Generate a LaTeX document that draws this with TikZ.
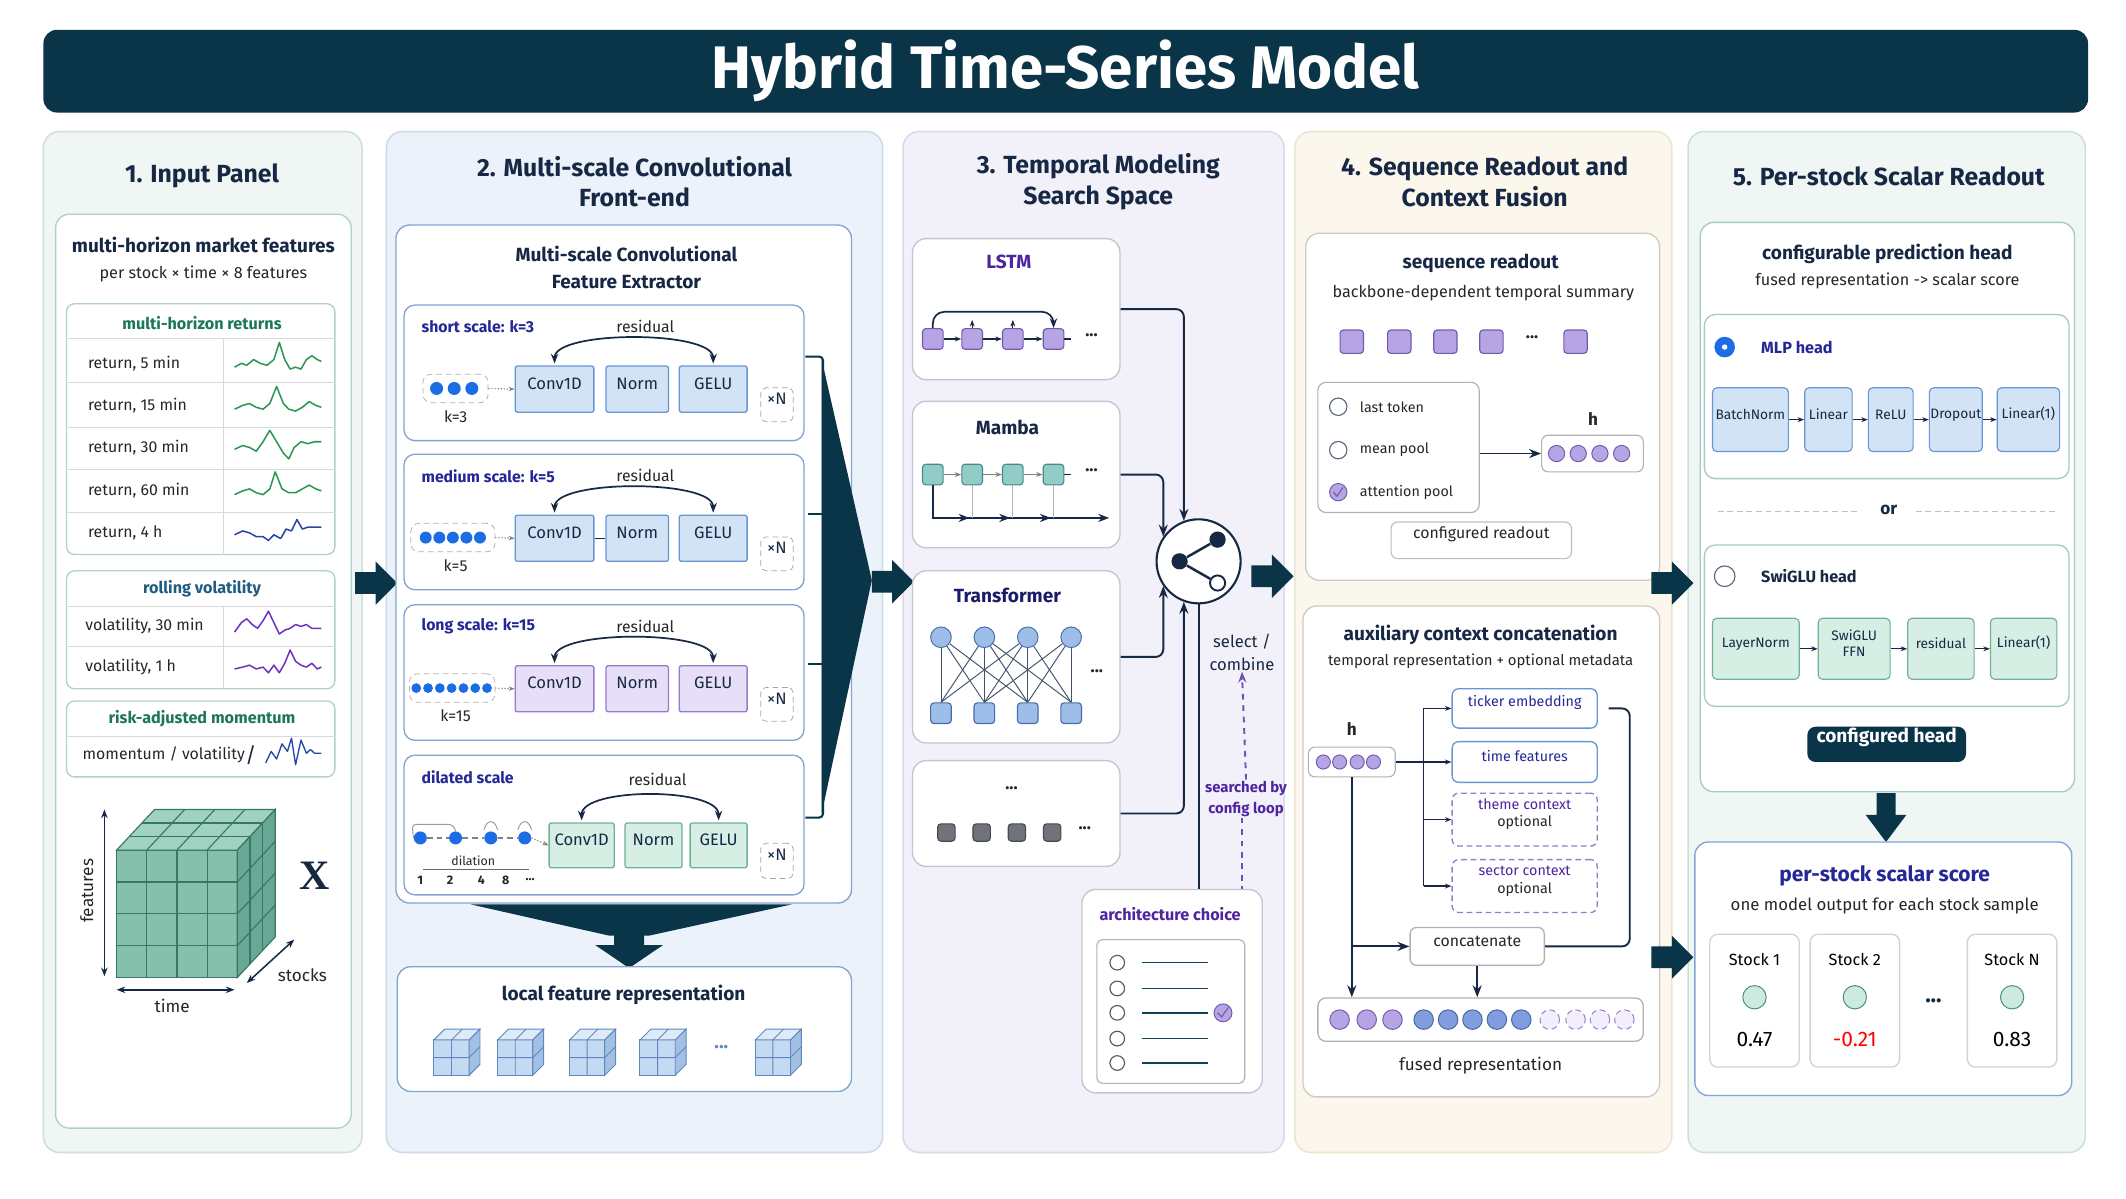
\documentclass[tikz,border=0pt]{standalone}
\usepackage{fontspec}
\setmainfont{Fira Sans}
\newfontfamily\serifx{Liberation Serif}
\usetikzlibrary{arrows.meta, positioning, calc, fit}

\definecolor{navy}{RGB}{10,52,72}
\definecolor{ink}{RGB}{22,40,68}
\definecolor{inkblue}{RGB}{36,40,150}
\definecolor{inkpur}{RGB}{78,36,160}
\definecolor{inkgreen}{RGB}{28,118,88}
\definecolor{inkteal}{RGB}{30,92,128}
\definecolor{pgreen}{RGB}{239,246,243}
\definecolor{pgreenE}{RGB}{206,224,216}
\definecolor{pblue}{RGB}{235,242,250}
\definecolor{pblueE}{RGB}{204,218,236}
\definecolor{plav}{RGB}{242,241,250}
\definecolor{plavE}{RGB}{218,216,234}
\definecolor{pcream}{RGB}{251,247,236}
\definecolor{pcreamE}{RGB}{238,228,206}
\definecolor{pmint}{RGB}{239,246,244}
\definecolor{pmintE}{RGB}{204,224,218}
\definecolor{cardg}{RGB}{178,208,196}
\definecolor{cardb}{RGB}{128,164,212}
\definecolor{cardl}{RGB}{196,196,210}
\definecolor{cardc}{RGB}{206,204,194}
\definecolor{cardm}{RGB}{164,204,198}
\definecolor{cvblue}{RGB}{210,227,246}
\definecolor{cvblueE}{RGB}{104,150,212}
\definecolor{cvpur}{RGB}{231,222,247}
\definecolor{cvpurE}{RGB}{150,124,204}
\definecolor{cvgrn}{RGB}{214,238,228}
\definecolor{cvgrnE}{RGB}{112,178,152}
\definecolor{dotb}{RGB}{28,108,228}
\definecolor{sqpur}{RGB}{182,164,228}
\definecolor{sqpurE}{RGB}{112,92,172}
\definecolor{sqteal}{RGB}{146,204,198}
\definecolor{sqtealE}{RGB}{70,138,138}
\definecolor{tfb}{RGB}{156,190,232}
\definecolor{tfbE}{RGB}{72,110,170}
\definecolor{sqgray}{RGB}{112,116,122}
\definecolor{sqgrayE}{RGB}{70,74,80}
\definecolor{cblu}{RGB}{128,158,222}
\definecolor{cbluE}{RGB}{70,100,170}
\definecolor{cubeF}{RGB}{132,192,172}
\definecolor{cubeT}{RGB}{160,210,192}
\definecolor{cubeR}{RGB}{104,168,148}
\definecolor{cubeE}{RGB}{58,118,102}
\definecolor{cbF}{RGB}{196,218,242}
\definecolor{cbT}{RGB}{222,234,248}
\definecolor{cbR}{RGB}{162,192,228}
\definecolor{cbE}{RGB}{96,136,190}
\definecolor{spg}{RGB}{44,150,84}
\definecolor{spb}{RGB}{40,70,170}
\definecolor{spp}{RGB}{112,50,196}
\definecolor{stk}{RGB}{204,234,222}
\definecolor{stkE}{RGB}{70,138,128}

\tikzset{
  panel/.style={draw, rounded corners=3mm, line width=0.8pt, inner sep=0pt},
  card/.style={draw=#1, fill=white, rounded corners=2.5mm, line width=0.7pt, inner sep=0pt},
  ptitle/.style={font=\fontsize{13}{16}\selectfont\bfseries, text=ink, align=center},
  btitle/.style={font=\fontsize{10}{14}\selectfont\bfseries, text=ink, align=center},
  hdr/.style={font=\fontsize{8.5}{10}\selectfont\bfseries},
  sub/.style={font=\fontsize{8.5}{10}\selectfont, text=black!85},
  lbl/.style={font=\fontsize{8.3}{9.5}\selectfont, text=black!85},
  sm/.style={font=\fontsize{7.5}{9}\selectfont, text=black!85},
  scl/.style={font=\fontsize{8.3}{9.5}\selectfont\bfseries, text=inkblue},
  cv/.style={draw=#1E, fill=#1, line width=0.7pt, inner sep=0pt, rounded corners=0.4mm, font=\fontsize{8.7}{10}\selectfont, text=ink},
  hb/.style={draw=#1E, fill=#1, line width=0.6pt, inner sep=0pt, rounded corners=0.8mm, font=\fontsize{7.2}{8.2}\selectfont, text=ink, align=center},
  xn/.style={draw=gray!70, densely dashed, rounded corners=1mm, inner sep=0pt, font=\fontsize{8.7}{9}\selectfont, text=ink},
  sq/.style={draw=#1E, fill=#1, minimum size=3.8mm, inner sep=0pt, rounded corners=0.6mm, line width=0.6pt},
  dot/.style={circle, draw=#1E, fill=#1, minimum size=3.4mm, inner sep=0pt, line width=0.5pt},
  radio/.style={circle, draw=ink!70, fill=white, minimum size=3.2mm, inner sep=0pt, line width=0.6pt},
  rowline/.style={draw=gray!30, line width=0.5pt},
  conn/.style={-{Stealth[length=2.2mm]}, draw=ink, line width=1pt, rounded corners=4pt},
  sarr/.style={-{Stealth[length=1.2mm]}, draw=ink, line width=0.6pt},
  resid/.style={{Stealth[length=1.8mm]}-{Stealth[length=1.8mm]}, draw=ink, line width=0.9pt, shorten <=1pt, shorten >=1pt},
  dotarr/.style={-{Stealth[length=1.1mm]}, draw=gray, densely dotted, line width=0.6pt},
  purdash/.style={draw=inkpur!80, dashed, line width=1pt},
  spark/.style={line width=0.8pt, line join=round, yscale=1.4},
  bigarrow/.pic={\fill[navy] (0,-8) -- (15,-8) -- (15,-16) -- (31,0) -- (15,16) -- (15,8) -- (0,8) -- cycle;},
  fcube/.pic={
    \filldraw[fill=cbF, draw=cbE, line width=0.5pt] (-17,-9) rectangle (9,17);
    \filldraw[fill=cbT, draw=cbE, line width=0.5pt] (-17,-9) -- (-9,-17) -- (17,-17) -- (9,-9) -- cycle;
    \filldraw[fill=cbR, draw=cbE, line width=0.5pt] (9,-9) -- (17,-17) -- (17,9) -- (9,17) -- cycle;
    \draw[cbE, line width=0.5pt] (-4,-9) -- (-4,17) (-17,4) -- (9,4) (-4,-9) -- (4,-17) (9,4) -- (17,-4);
  },
}

\begin{document}
\begin{tikzpicture}[x=0.25mm, y=-0.25mm]
  \useasboundingbox (0,0) rectangle (1568,884);
  \fill[white] (0,0) rectangle (1568,884);

  \node[fill=navy, rounded corners=2.5mm, inner sep=0pt, fit={(32,22) (1540,83)}] (bar) {};
  \node[font=\fontsize{31.5}{34}\selectfont\bfseries, text=white] (ttl) at (bar.center) {Hybrid Time-Series Model};

  \foreach \n/\xa/\xb/\cl in {1/32/267/pgreen, 2/285/651/pblue, 3/666/947/plav, 4/955/1233/pcream, 5/1245/1538/pmint}
    \node[panel, fill=\cl, draw=\cl E, fit={(\xa,97) (\xb,850)}] (p\n) {};

  \node[ptitle] (t1) at (149,130) {1. Input Panel};
  \node[ptitle] (t2) at (468,134) {2. Multi-scale Convolutional\\Front-end};
  \node[ptitle] (t3) at (810,134) {3. Temporal Modeling\\Search Space};
  \node[ptitle] (t4) at (1095,134) {4. Sequence Readout and\\Context Fusion};
  \node[ptitle] (t5) at (1393,130) {5. Per-stock Scalar Readout};

  % input panel
  \node[card=cardg, fit={(41,158) (259,832)}] (mhf) {};
  \node[btitle] (mhft) at (150,181) {multi-horizon market features};
  \node[sub] (mhfs) at (150,202) {per stock × time × 8 features};

  \node[card=cardg, rounded corners=1.5mm, fit={(49,224) (247,409)}] (ret) {};
  \node[hdr, text=inkgreen] (rett) at (149,238) {multi-horizon returns};
  \foreach \y in {250,282,315,346,378} \draw[rowline] (49,\y) -- (247,\y);
  \draw[rowline] (165,250) -- (165,409);
  \foreach \i/\t/\y in {1/{5 min}/268, 2/{15 min}/299, 3/{30 min}/330, 4/{60 min}/362, 5/{4 h}/393}
    \node[lbl, anchor=west] (ret\i) at (60,\y) {return, \t};
  \draw[spg, shift={(173,268)}, spark] plot coordinates {(0,2) (5,0) (9,1) (14,-2) (19,0) (24,1) (29,-2) (33,-11) (37,-2) (41,3) (45,2) (49,3) (53,-2) (57,-4) (61,-2) (64,-1)};
  \draw[spg, shift={(173,299)}, spark] plot coordinates {(0,2) (6,0) (11,-1) (16,1) (21,2) (26,-1) (31,-10) (36,-1) (40,2) (45,3) (50,1) (55,-2) (60,0) (64,1)};
  \draw[spg, shift={(173,330)}, spark] plot coordinates {(0,1) (6,-1) (11,0) (16,2) (21,-3) (26,-9) (31,-3) (36,3) (40,6) (44,0) (49,-3) (54,-2) (59,-3) (64,-3)};
  \draw[spg, shift={(173,362)}, spark] plot coordinates {(0,2) (6,0) (11,-1) (16,1) (21,2) (26,-1) (30,-10) (35,-1) (40,1) (45,1) (50,-1) (55,-3) (60,-1) (64,0)};
  \draw[spb, shift={(173,393)}, spark] plot coordinates {(0,1) (6,-1) (11,0) (16,2) (21,2) (25,4) (29,1) (34,3) (38,-2) (42,-1) (46,-7) (50,-2) (54,-3) (60,-3) (64,-3)};

  \node[card=cardg, rounded corners=1.5mm, fit={(49,421) (247,508)}] (vol) {};
  \node[hdr, text=inkteal] (volt) at (149,434) {rolling volatility};
  \foreach \y in {447,477} \draw[rowline] (49,\y) -- (247,\y);
  \draw[rowline] (165,447) -- (165,508);
  \node[lbl, anchor=west] (vol1) at (58,462) {volatility, 30 min};
  \node[lbl, anchor=west] (vol2) at (58,492) {volatility, 1 h};
  \draw[spp, shift={(173,462)}, spark] plot coordinates {(0,3) (5,-2) (9,-4) (13,-1) (17,1) (21,-3) (25,-8) (29,-2) (33,4) (37,2) (41,1) (45,-1) (49,0) (53,-1) (57,1) (64,1)};
  \draw[spp, shift={(173,492)}, spark] plot coordinates {(0,1) (6,0) (11,-1) (16,1) (21,0) (25,3) (29,-1) (33,3) (37,-2) (41,-9) (45,-3) (49,-1) (53,0) (57,-2) (61,1) (64,0)};

  \node[card=cardg, rounded corners=1.5mm, fit={(49,517) (247,573)}] (mom) {};
  \node[hdr, text=inkgreen] (momt) at (149,530) {risk-adjusted momentum};
  \draw[rowline] (49,543) -- (247,543);
  \node[lbl, anchor=west] (mom1) at (56,557) {momentum / volatility};
  \node[font=\fontsize{11}{12}\selectfont, text=ink] (slash) at (185,557) {/};
  \draw[spb, shift={(196,557)}, spark, line width=0.7pt] plot coordinates {(0,4) (4,-2) (8,2) (12,-6) (16,-2) (19,-9) (22,5) (26,-8) (30,-1) (33,-3) (36,-1) (41,-1)};

  \filldraw[fill=cubeF, draw=cubeE, line width=0.6pt] (86,627) rectangle (175,721);
  \filldraw[fill=cubeT, draw=cubeE, line width=0.6pt] (86,627) -- (114,597) -- (203,597) -- (175,627) -- cycle;
  \filldraw[fill=cubeR, draw=cubeE, line width=0.6pt] (175,627) -- (203,597) -- (203,691) -- (175,721) -- cycle;
  \foreach \k in {1,2,3} {
    \draw[cubeE, line width=0.6pt] (86+22.25*\k,627) -- (86+22.25*\k,721);
    \draw[cubeE, line width=0.6pt] (86,627+23.5*\k) -- (175,627+23.5*\k);
    \draw[cubeE, line width=0.6pt] (86+22.25*\k,627) -- ++(28,-30);
    \draw[cubeE, line width=0.6pt] (175,627+23.5*\k) -- ++(28,-30);
  }
  \foreach \j in {1,2} {
    \draw[cubeE, line width=0.6pt] (86+9.33*\j,627-10*\j) -- ++(89,0);
    \draw[cubeE, line width=0.6pt] (175+9.33*\j,627-10*\j) -- ++(0,94);
  }
  \coordinate (fa) at (77,720);
  \coordinate (fb) at (77,597);
  \coordinate (ta) at (86,730);
  \coordinate (tb) at (173,730);
  \coordinate (sa) at (182,725);
  \coordinate (sb) at (217,693);
  \draw[{Stealth[length=1.6mm]}-{Stealth[length=1.6mm]}, ink, line width=0.8pt] (fa) -- (fb);
  \draw[{Stealth[length=1.6mm]}-{Stealth[length=1.6mm]}, ink, line width=0.8pt] (ta) -- (tb);
  \draw[{Stealth[length=1.6mm]}-{Stealth[length=1.6mm]}, ink, line width=0.8pt] (sa) -- (sb);
  \node[lbl, rotate=90, font=\fontsize{9}{10}\selectfont] (feat) at (64,657) {features};
  \node[lbl, font=\fontsize{9}{10}\selectfont] (time) at (127,742) {time};
  \node[lbl, font=\fontsize{9}{10}\selectfont] (stk) at (223,719) {stocks};
  \node[font=\serifx\fontsize{22}{24}\selectfont\bfseries, text=ink] (xx) at (232,646) {X};

  \pic at (262,430) {bigarrow};

  % conv front-end
  \node[card=cardb, fit={(292,166) (628,666)}] (mcfe) {};
  \node[btitle] (mcfet) at (462,197) {Multi-scale Convolutional\\Feature Extractor};
  \foreach \i/\nm/\yt/\fc/\nd/\dx/\xs/\bl/\br/\kk/\rr in {
      1/{short scale: k=3}/225/cvblue/3/13/322/312/360/3/1.2mm,
      2/{medium scale: k=5}/335/cvblue/5/10/314/303/365/5/1.1mm,
      3/{long scale: k=15}/446/cvpur/7/8.7/307/302/365/15/0.9mm} {
    \node[card=cardb, rounded corners=2mm, fit={(298,\yt) (593,\yt+100)}] (sc\i) {};
    \node[scl, anchor=west] (scl\i) at (306,\yt+16) {\nm};
    \node[lbl] (res\i) at (476,\yt+16) {residual};
    \node[cv=\fc, fit={(380,\yt+45) (438,\yt+79)}] (cv\i) {Conv1D};
    \node[cv=\fc, fit={(447,\yt+45) (493,\yt+79)}] (nm\i) {Norm};
    \node[cv=\fc, fit={(501,\yt+45) (551,\yt+79)}] (ge\i) {GELU};
    \draw[resid] (cv\i.north) .. controls +(0,-26) and +(0,-26) .. (ge\i.north);
    \node[draw=gray!60, densely dashed, rounded corners=1.5mm, inner sep=0pt, fit={(\bl,\yt+51) (\br,\yt+72)}] (db\i) {};
    \foreach \k in {1,...,\nd} \fill[dotb] (\xs+\dx*\k-\dx,\yt+61.5) circle (\rr);
    \node[lbl] (k\i) at (336,\yt+82) {k=\kk};
    \draw[dotarr] (db\i.east) -- (cv\i.west);
    \node[xn, fit={(561,\yt+61) (585,\yt+86)}] (xn\i) {×N};
  }
  \draw[ink, line width=0.6pt] (cv2.east) -- (nm2.west);

  \node[card=cardb, rounded corners=2mm, fit={(298,557) (593,660)}] (sc4) {};
  \node[scl, anchor=west] (scl4) at (306,573) {dilated scale};
  \node[lbl] (res4) at (485,575) {residual};
  \node[cv=cvgrn, fit={(405,607) (453,640)}] (cv4) {Conv1D};
  \node[cv=cvgrn, fit={(461,607) (503,640)}] (nm4) {Norm};
  \node[cv=cvgrn, fit={(509,607) (551,640)}] (ge4) {GELU};
  \draw[resid] (cv4.north) .. controls +(0,-26) and +(0,-26) .. (ge4.north);
  \foreach \k/\xx in {1/310, 2/336, 3/362, 4/387}
    \node[circle, fill=dotb, minimum size=2.4mm, inner sep=0pt] (dd\k) at (\xx,618) {};
  \draw[gray, densely dashed, line width=0.6pt] (dd1) -- (dd2) -- (dd3) -- (dd4);
  \draw[gray!80, line width=0.5pt, rounded corners=2pt] (dd1.west) -- (304,608) -- (334,608) -- (dd2.north);
  \draw[gray!80, line width=0.5pt] (357,612) .. controls (359,604) and (365,604) .. (367,612);
  \draw[gray!80, line width=0.5pt] (382,612) .. controls (384,604) and (390,604) .. (392,612);
  \draw[dotarr] (dd4.east) -- (cv4.west);
  \node[sm, font=\fontsize{6.5}{7}\selectfont] (dil) at (349,635) {dilation};
  \draw[ink!70, line width=0.5pt] (312,641) -- (390,641);
  \foreach \xx/\t in {310/1, 332/2, 355/4, 373/8, 391/{\ldots}}
    \node[sm, font=\fontsize{6.5}{7}\selectfont\bfseries] at (\xx,649) {\t};
  \node[xn, fit={(561,622) (585,648)}] (xn4) {×N};

  \fill[navy] (606,265) -- (643,428) -- (606,600) -- cycle;
  \draw[navy, line width=1.1pt, rounded corners=2pt] (594,263) -- (607,263) -- (607,603) -- (594,603);
  \draw[navy, line width=1.1pt] (607,379) -- (596,379) (607,490) -- (596,490);
  \pic at (643,429) {bigarrow};

  \fill[navy] (347,667) -- (584,667) -- (479,690) -- (449,690) -- cycle;
  \fill[navy] (453,689) -- (475,689) -- (475,697) -- (489,697) -- (464,714) -- (439,697) -- (453,697) -- cycle;

  \node[card=cardb, fit={(293,713) (628,805)}] (lfr) {};
  \node[btitle] (lfrt) at (460,734) {local feature representation};
  \foreach \xx in {337,384,437,489,574} \pic at (\xx,776) {fcube};
  \node[lbl, font=\fontsize{10}{10}\selectfont\bfseries, text=cbE] (lfrd) at (532,772) {...};

  % temporal search space
  \node[card=cardl, fit={(673,176) (826,280)}] (lstm) {};
  \node[btitle, text=inkpur] (lstmt) at (744,193) {LSTM};
  \foreach \k/\xx in {1/688, 2/717, 3/747, 4/777} \node[sq=sqpur] (ls\k) at (\xx,250) {};
  \foreach \a/\b in {1/2, 2/3, 3/4} \draw[sarr] (ls\a) -- (ls\b);
  \draw[ink, line width=0.6pt] (ls4.east) -- ++(5,0);
  \draw[-{Stealth[length=1.8mm]}, ink, line width=0.9pt, rounded corners=6pt] (ls1.north) -- ++(0,-12) -| (ls4.north);
  \draw[sarr] (ls2.north) -- ++(0,-6);
  \draw[sarr] (ls3.north) -- ++(0,-6);
  \node[lbl, font=\fontsize{9}{9}\selectfont\bfseries] (lsd) at (805,247) {...};

  \node[card=cardl, fit={(673,296) (826,404)}] (mamba) {};
  \node[btitle] (mambat) at (743,315) {Mamba};
  \foreach \k/\xx in {1/688, 2/717, 3/747, 4/777} \node[sq=sqteal] (mb\k) at (\xx,350) {};
  \foreach \a/\b in {1/2, 2/3, 3/4} \draw[sarr, draw=gray] (mb\a) -- (mb\b);
  \draw[ink, line width=0.6pt] (mb4.east) -- ++(5,0);
  \node[lbl, font=\fontsize{9}{9}\selectfont\bfseries] (mbd) at (805,347) {...};
  \coordinate (mbend) at (818,382);
  \draw[-{Stealth[length=2mm]}, ink, line width=0.9pt] (mb1.south) |- (mbend);
  \foreach \k/\xx in {2/717, 3/747, 4/777} {
    \draw[gray!60, line width=0.5pt] (mb\k.south) -- (\xx,382);
    \draw[-{Stealth[length=2mm]}, ink, line width=0.9pt] (\xx-9,382) -- (\xx-2,382);
  }

  \node[card=cardl, fit={(673,421) (826,548)}] (tf) {};
  \node[btitle, text=inkblue!70!black] (tft) at (743,439) {Transformer};
  \foreach \k/\xx in {1/694, 2/726, 3/758, 4/790} {
    \node[dot=tfb, minimum size=3.8mm] (tc\k) at (\xx,470) {};
    \node[sq=tfb] (ts\k) at (\xx,526) {};
  }
  \foreach \a in {1,...,4} \foreach \b in {1,...,4} {
    \pgfmathtruncatemacro{\dd}{abs(\a-\b)}
    \ifnum\dd<3 \draw[ink!80, line width=0.5pt] (tc\a) -- (ts\b.north); \fi
  }
  \node[lbl, font=\fontsize{9}{9}\selectfont\bfseries] (tfd) at (809,495) {...};

  \node[card=cardl, fit={(673,561) (826,639)}] (oth) {};
  \node[lbl, font=\fontsize{9}{9}\selectfont\bfseries] (otht) at (746,581) {...};
  \foreach \k/\xx in {1/698, 2/724, 3/750, 4/776} \node[sq=sqgray, minimum size=3.2mm] (og\k) at (\xx,614) {};
  \node[lbl, font=\fontsize{9}{9}\selectfont\bfseries] (ogd) at (800,611) {...};

  \node[circle, draw=ink, line width=1.1pt, fill=white, minimum size=15.5mm, inner sep=0pt] (sel) at (884,414) {};
  \node[circle, fill=ink, minimum size=3mm, inner sep=0pt] (ic1) at (898,398) {};
  \node[circle, fill=ink, minimum size=3mm, inner sep=0pt] (ic2) at (870,414) {};
  \node[circle, draw=ink, fill=white, line width=1pt, minimum size=2.8mm, inner sep=0pt] (ic3) at (898,430) {};
  \draw[ink, line width=1.3pt] (ic1) -- (ic2) -- (ic3);

  \draw[conn] (lstm.east) -| (sel.110);
  \draw[conn] (mamba.east) -| (sel.145);
  \draw[conn] (tf.east) -| (sel.215);
  \draw[conn] (oth.east) -| (sel.250);

  \node[card=cardl, fit={(798,656) (931,806)}] (arch) {};
  \node[hdr, text=inkpur] (archt) at (863,674) {architecture choice};
  \node[draw=gray!60, rounded corners=1mm, inner sep=0pt, line width=0.6pt, fit={(809,693) (918,799)}] (archl) {};
  \foreach \k/\y in {1/710, 2/729, 3/747, 4/766, 5/784} {
    \node[radio, draw=gray!70!black, minimum size=2.7mm] (ac\k) at (824,\y) {};
    \draw[ink!70!teal, line width=0.7pt] (842,\y) -- (891,\y);
  }
  \node[dot=sqpur, minimum size=3.3mm] (acc) at (902,747) {};
  \draw[sqpurE, line width=0.6pt] (898,747) -- (901,750) -- (906,743);

  \draw[ink, line width=1.1pt] (sel.south) -- (sel.south |- arch.north);
  \node[lbl, font=\fontsize{8.7}{12}\selectfont, align=center, text=ink] (selt) at (916,481) {select /\\combine};
  \node[sm, font=\fontsize{7.8}{11}\selectfont\bfseries, align=center, text=inkpur] (srch) at (919,589) {searched by\\config loop};
  \draw[purdash, -{Stealth[length=2mm]}] ([yshift=-1mm]srch.north) -- ([yshift=1mm]selt.south);
  \draw[purdash] ([yshift=1mm]srch.south -| 916,0) -- (916,656);

  \pic at (923,425) {bigarrow};

  % readout and fusion
  \node[card=cardc, fit={(963,172) (1224,428)}] (seq) {};
  \node[btitle] (seqt) at (1092,194) {sequence readout};
  \node[sub] (seqs) at (1094,216) {backbone-dependent temporal summary};
  \foreach \k/\xx in {1/997, 2/1032, 3/1066, 4/1100, 5/1162} \node[sq=sqpur, minimum size=4.3mm] (rs\k) at (\xx,252) {};
  \node[lbl, font=\fontsize{9}{9}\selectfont\bfseries] (rsd) at (1130,249) {...};
  \node[draw=gray!60, rounded corners=1.5mm, inner sep=0pt, line width=0.6pt, fit={(972,282) (1091,378)}] (opt) {};
  \node[radio] (o1) at (987,300) {};
  \node[radio] (o2) at (987,332) {};
  \node[dot=sqpur, minimum size=3.2mm] (o3) at (987,363) {};
  \draw[sqpurE, line width=0.6pt] (983.5,363) -- (986,366) -- (990.5,359.5);
  \node[sm, anchor=west] (o1t) at (998,300) {last token};
  \node[sm, anchor=west] (o2t) at (998,332) {mean pool};
  \node[sm, anchor=west] (o3t) at (998,363) {attention pool};
  \node[draw=gray!60, rounded corners=1.2mm, inner sep=0pt, line width=0.6pt, fit={(1137,321) (1212,348)}] (hv) {};
  \foreach \k/\xx in {1/1148, 2/1164, 3/1180, 4/1196} \node[dot=sqpur, minimum size=3mm] (hc\k) at (\xx,334.5) {};
  \node[lbl, font=\fontsize{9}{10}\selectfont\bfseries] (hvt) at (1175,309) {h};
  \draw[conn] (opt.east |- hv.west) -- (hv.west);
  \node[draw=gray!50, fill=white, rounded corners=1.2mm, inner sep=0pt, line width=0.6pt, lbl, fit={(1026,385) (1159,412)}] (cfr) {configured readout};

  \node[card=cardc, fit={(961,447) (1224,809)}] (aux) {};
  \node[btitle] (auxt) at (1092,468) {auxiliary context concatenation};
  \node[sm, font=\fontsize{7.8}{9}\selectfont] (auxs) at (1092,488) {temporal representation + optional metadata};
  \node[lbl, font=\fontsize{9}{10}\selectfont\bfseries] (hxt) at (997,538) {h};
  \node[draw=gray!60, rounded corners=1.2mm, inner sep=0pt, line width=0.6pt, fit={(965,551) (1029,573)}] (hx) {};
  \foreach \k/\xx in {1/976, 2/988, 3/1001, 4/1013} \node[dot=sqpur, minimum size=2.6mm] (hxc\k) at (\xx,562) {};
  \node[draw=cvblueE, rounded corners=1.2mm, inner sep=0pt, line width=0.7pt, sm, text=inkblue, fit={(1071,508) (1178,537)}] (tick) {ticker embedding};
  \node[draw=cvblueE, rounded corners=1.2mm, inner sep=0pt, line width=0.7pt, sm, text=inkblue, fit={(1071,547) (1178,577)}] (timef) {time features};
  \node[draw=cvpurE, densely dashed, rounded corners=1.2mm, inner sep=0pt, line width=0.7pt, sm, align=center, fit={(1071,585) (1178,624)}] (theme) {\textcolor{inkpur}{theme context}\\optional};
  \node[draw=cvpurE, densely dashed, rounded corners=1.2mm, inner sep=0pt, line width=0.7pt, sm, align=center, fit={(1071,634) (1178,673)}] (sect) {\textcolor{inkpur}{sector context}\\optional};
  \coordinate (trunk) at (1050,562);
  \draw[ink, line width=0.7pt] (hx.east) -- (trunk);
  \draw[ink, line width=0.7pt] (trunk |- tick.west) -- (trunk |- sect.west);
  \foreach \b in {tick, timef, theme, sect} \draw[sarr] (trunk |- \b.west) -- (\b.west);
  \node[draw=gray!60, fill=white, rounded corners=1.2mm, inner sep=0pt, line width=0.7pt, lbl, fit={(1040,684) (1139,712)}] (cat) {concatenate};
  \draw[ink, line width=1pt, rounded corners=4pt] ([xshift=2mm]tick.east) -- (1202,522.5) -- (1202,698) -- (cat.east);
  \node[draw=gray!60, rounded corners=1.5mm, inner sep=0pt, line width=0.7pt, fit={(972,736) (1212,768)}] (fus) {};
  \draw[conn] (hx.south) -- (hx.south |- fus.north);
  \draw[conn] (hx.south |- cat.west) -- (cat.west);
  \draw[conn] (cat.south) -- (cat.south |- fus.north);
  \foreach \k/\xx in {1/988, 2/1008, 3/1027} \node[dot=sqpur, minimum size=3.6mm] (fp\k) at (\xx,752) {};
  \foreach \k/\xx in {1/1050, 2/1068, 3/1086, 4/1104, 5/1122} \node[dot=cblu, minimum size=3.6mm] (fb\k) at (\xx,752) {};
  \foreach \k/\xx in {1/1143, 2/1162, 3/1180, 4/1198} \node[circle, draw=cvpurE, densely dashed, fill=cvpur!50, minimum size=3.6mm, inner sep=0pt, line width=0.5pt] (fo\k) at (\xx,752) {};
  \node[sub, font=\fontsize{9}{10}\selectfont] (fust) at (1092,786) {fused representation};

  \pic at (1218,430) {bigarrow};
  \pic at (1218,706) {bigarrow};

  % scalar readout
  \node[card=cardm, fit={(1254,164) (1530,584)}] (cph) {};
  \node[btitle] (cpht) at (1392,187) {configurable prediction head};
  \node[sub] (cphs) at (1392,207) {fused representation -> scalar score};
  \node[card=cardm, rounded corners=2mm, fit={(1257,232) (1526,353)}] (mlp) {};
  \node[circle, fill=dotb, minimum size=3.8mm, inner sep=0pt] (rm) at (1272,256) {};
  \fill[white] (rm) circle (0.5mm);
  \node[hdr, text=inkblue, anchor=west] (mlpt) at (1294,256) {MLP head};
  \foreach \id/\nm/\xa/\xb in {m1/BatchNorm/1263/1319, m2/Linear/1331/1366, m3/ReLU/1378/1411, m4/Dropout/1423/1462, m5/Linear(1)/1473/1519}
    \node[hb=cvblue, fit={(\xa,286) (\xb,333)}] (\id) {\nm};
  \foreach \a/\b in {m1/m2, m2/m3, m3/m4, m4/m5} \draw[sarr] (\a) -- (\b);
  \node[lbl, font=\fontsize{9}{10}\selectfont\bfseries, text=ink] (ort) at (1393,376) {or};
  \draw[gray!50, densely dashed, line width=0.6pt] (1267,377) -- (1372,377) (1413,377) -- (1517,377);
  \node[card=cardm, rounded corners=2mm, fit={(1257,402) (1526,521)}] (swg) {};
  \node[radio, minimum size=3.8mm] (rs) at (1272,425) {};
  \node[hdr, text=ink, anchor=west] (swgt) at (1294,425) {SwiGLU head};
  \foreach \id/\nm/\xa/\xb in {s1/LayerNorm/1263/1327, s2/{SwiGLU\\FFN}/1341/1394, s3/residual/1407/1456, s4/Linear(1)/1468/1517}
    \node[hb=cvgrn, fit={(\xa,456) (\xb,501)}] (\id) {\nm};
  \foreach \a/\b in {s1/s2, s2/s3, s3/s4} \draw[sarr] (\a) -- (\b);
  \node[fill=navy, text=white, rounded corners=1.5mm, inner sep=0pt, font=\fontsize{10}{10}\selectfont\bfseries, fit={(1333,536) (1450,562)}] (cfh) {configured head};

  \fill[navy] (1384,585) -- (1398,585) -- (1398,601) -- (1406,601) -- (1391,621) -- (1376,601) -- (1384,601) -- cycle;

  \node[card=cardb, fit={(1250,621) (1528,808)}] (pss) {};
  \node[btitle, font=\fontsize{11}{13}\selectfont\bfseries, text=inkblue] (psst) at (1390,646) {per-stock scalar score};
  \node[sub, font=\fontsize{8.8}{10}\selectfont] (psss) at (1390,668) {one model output for each stock sample};
  \foreach \i/\xa/\xb/\nm/\v/\vc in {1/1261/1327/{Stock 1}/0.47/black, 2/1335/1401/{Stock 2}/-0.21/red, 3/1451/1517/{Stock N}/0.83/black} {
    \node[card=gray!35, rounded corners=1.5mm, fit={(\xa,689) (\xb,787)}] (st\i) {};
    \node[lbl, font=\fontsize{8.5}{9}\selectfont, text=black] (stn\i) at ($(st\i.north)+(0,19)$) {\nm};
    \node[dot=stk, minimum size=4.3mm] (stc\i) at ($(st\i.north)+(0,47)$) {};
    \node[font=\fontsize{11}{11}\selectfont, text=\vc] (stv\i) at ($(st\i.north)+(0,78)$) {\v};
  }
  \node[font=\fontsize{12}{12}\selectfont\bfseries, text=ink] (std) at (1426,738) {...};
\end{tikzpicture}
\end{document}
